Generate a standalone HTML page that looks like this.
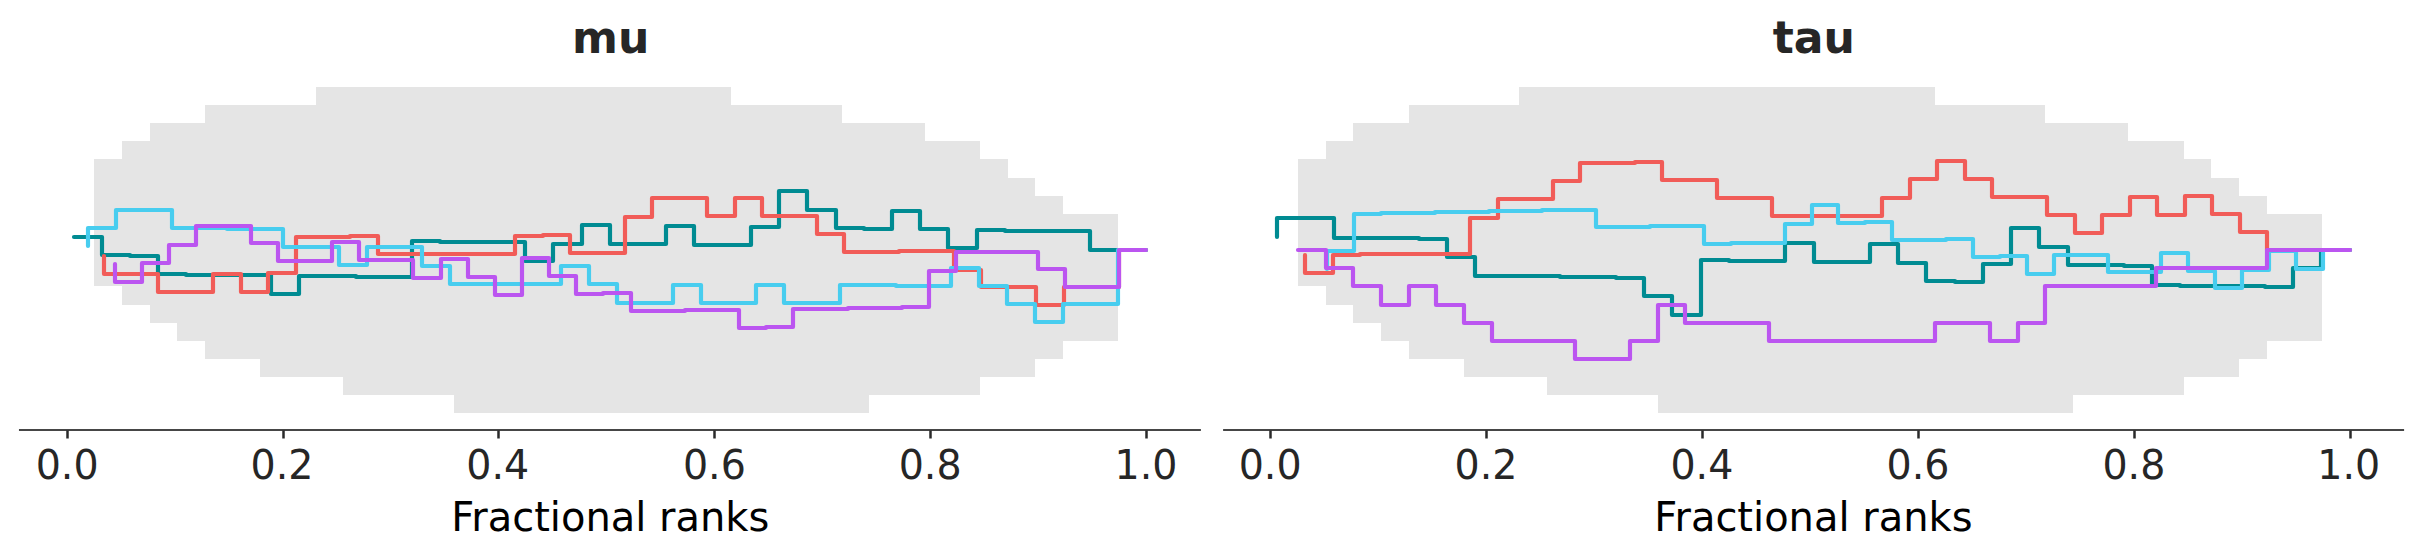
<!DOCTYPE html>
<html><head><meta charset="utf-8"><title>rank plot</title>
<style>
html,body{margin:0;padding:0;background:#fff}
svg{display:block}
text{font-family:"DejaVu Sans","Liberation Sans",sans-serif;text-anchor:middle}
.tk{font-size:41.67px;fill:#262626}
.xl{font-size:41.67px;fill:#000}
.tt{font-size:44.1px;font-weight:bold;fill:#262626}
</style></head><body>
<svg width="2423" height="559" viewBox="0 0 2423 559">
<rect width="2423" height="559" fill="#fff"/>
<path d="M94.00,159.00V159.00H122.00V141.00H150.00V123.00H177.00V123.00H205.00V105.00H233.00V105.00H260.00V105.00H288.00V105.00H316.00V87.00H343.00V87.00H371.00V87.00H399.00V87.00H426.00V87.00H454.00V87.00H482.00V87.00H510.00V87.00H537.00V87.00H565.00V87.00H593.00V87.00H620.00V87.00H648.00V87.00H676.00V87.00H703.00V87.00H731.00V105.00H759.00V105.00H786.00V105.00H814.00V105.00H842.00V123.00H869.00V123.00H897.00V123.00H925.00V141.00H952.00V141.00H980.00V159.00H1008.00V178.00H1035.00V196.00H1063.00V214.00H1091.00V214.00H1118.00V341.00H1091.00V341.00H1063.00V359.00H1035.00V377.00H1008.00V377.00H980.00V395.00H952.00V395.00H925.00V395.00H897.00V395.00H869.00V413.00H842.00V413.00H814.00V413.00H786.00V413.00H759.00V413.00H731.00V413.00H703.00V413.00H676.00V413.00H648.00V413.00H620.00V413.00H593.00V413.00H565.00V413.00H537.00V413.00H510.00V413.00H482.00V413.00H454.00V395.00H426.00V395.00H399.00V395.00H371.00V395.00H343.00V377.00H316.00V377.00H288.00V377.00H260.00V359.00H233.00V359.00H205.00V341.00H177.00V323.00H150.00V305.00H122.00V286.00H94.00Z" fill="#e5e5e5"/>
<path d="M74.00,237.00V237.00H102.00V255.00H130.00V256.00H158.00V274.00H186.00V275.00H215.00V275.00H243.00V275.00H271.00V294.00H299.00V276.00H328.00V276.00H356.00V277.00H384.00V277.00H412.00V241.00H440.00V242.00H469.00V242.00H497.00V242.00H525.00V261.00H553.00V244.00H582.00V225.00H610.00V244.00H638.00V244.00H666.00V226.00H694.00V245.00H723.00V245.00H751.00V227.00H779.00V191.00H807.00V210.00H836.00V228.00H864.00V229.00H892.00V211.00H920.00V229.00H948.00V248.00H977.00V230.00H1005.00V231.00H1033.00V231.00H1061.00V231.00H1090.00V250.00H1118.00V250.00H1146.00" fill="none" stroke="#008b92" stroke-width="4.17" stroke-linejoin="round" stroke-linecap="round"/>
<path d="M104.00,256.00V274.00H131.00V274.00H158.00V292.00H186.00V292.00H213.00V274.00H241.00V292.00H268.00V273.00H296.00V237.00H323.00V237.00H350.00V236.00H378.00V254.00H405.00V254.00H433.00V254.00H460.00V254.00H488.00V254.00H515.00V236.00H543.00V235.00H570.00V253.00H597.00V253.00H625.00V217.00H652.00V198.00H680.00V198.00H707.00V216.00H735.00V198.00H762.00V216.00H789.00V216.00H817.00V234.00H844.00V252.00H872.00V252.00H899.00V251.00H927.00V251.00H954.00V270.00H981.00V287.00H1009.00V287.00H1036.00V305.00H1064.00V287.00H1091.00V287.00H1119.00V250.00H1146.00" fill="none" stroke="#f15c58" stroke-width="4.17" stroke-linejoin="round" stroke-linecap="round"/>
<path d="M88.00,246.00V228.00H116.00V210.00H144.00V210.00H172.00V228.00H199.00V228.00H227.00V229.00H255.00V229.00H283.00V247.00H311.00V247.00H339.00V265.00H367.00V247.00H394.00V247.00H422.00V266.00H450.00V284.00H478.00V284.00H506.00V284.00H534.00V284.00H561.00V266.00H589.00V284.00H617.00V303.00H645.00V303.00H673.00V285.00H701.00V303.00H729.00V303.00H756.00V285.00H784.00V303.00H812.00V303.00H840.00V285.00H868.00V285.00H896.00V286.00H923.00V286.00H951.00V268.00H979.00V286.00H1007.00V304.00H1035.00V322.00H1063.00V304.00H1091.00V304.00H1118.00V250.00H1146.00" fill="none" stroke="#48cdef" stroke-width="4.17" stroke-linejoin="round" stroke-linecap="round"/>
<path d="M115.00,264.00V282.00H142.00V263.00H169.00V245.00H196.00V226.00H224.00V226.00H251.00V243.00H278.00V261.00H305.00V261.00H332.00V242.00H359.00V260.00H386.00V260.00H413.00V278.00H441.00V259.00H468.00V277.00H495.00V295.00H522.00V258.00H549.00V276.00H576.00V294.00H603.00V293.00H631.00V311.00H658.00V311.00H685.00V310.00H712.00V310.00H739.00V328.00H766.00V327.00H793.00V309.00H821.00V309.00H848.00V308.00H875.00V308.00H902.00V307.00H929.00V271.00H956.00V252.00H983.00V252.00H1010.00V252.00H1038.00V269.00H1065.00V287.00H1092.00V287.00H1119.00V250.00H1146.00" fill="none" stroke="#bb55f0" stroke-width="4.17" stroke-linejoin="round" stroke-linecap="round"/>
<line x1="18.96" x2="1200.90" y1="430" y2="430" stroke="#464646" stroke-width="2.08"/>
<line x1="67.50" x2="67.50" y1="430.4" y2="438.5" stroke="#2a2a2a" stroke-width="2.5"/>
<text transform="translate(67.10,478.8) scale(0.95,1)" class="tk">0.0</text>
<line x1="283.50" x2="283.50" y1="430.4" y2="438.5" stroke="#2a2a2a" stroke-width="2.5"/>
<text transform="translate(282.00,478.8) scale(0.95,1)" class="tk">0.2</text>
<line x1="498.50" x2="498.50" y1="430.4" y2="438.5" stroke="#2a2a2a" stroke-width="2.5"/>
<text transform="translate(497.70,478.8) scale(0.95,1)" class="tk">0.4</text>
<line x1="714.50" x2="714.50" y1="430.4" y2="438.5" stroke="#2a2a2a" stroke-width="2.5"/>
<text transform="translate(714.40,478.8) scale(0.95,1)" class="tk">0.6</text>
<line x1="930.50" x2="930.50" y1="430.4" y2="438.5" stroke="#2a2a2a" stroke-width="2.5"/>
<text transform="translate(930.10,478.8) scale(0.95,1)" class="tk">0.8</text>
<line x1="1146.50" x2="1146.50" y1="430.4" y2="438.5" stroke="#2a2a2a" stroke-width="2.5"/>
<text transform="translate(1146.00,478.8) scale(0.95,1)" class="tk">1.0</text>
<text transform="translate(610.25,530.8) scale(0.96,1)" class="xl">Fractional ranks</text>
<text transform="translate(610.70,53.2) scale(1.0,1)" class="tt">mu</text>
<path d="M1298.00,159.00V159.00H1326.00V141.00H1353.00V123.00H1381.00V123.00H1409.00V105.00H1436.00V105.00H1464.00V105.00H1492.00V105.00H1519.00V87.00H1547.00V87.00H1575.00V87.00H1602.00V87.00H1630.00V87.00H1658.00V87.00H1685.00V87.00H1713.00V87.00H1741.00V87.00H1768.00V87.00H1796.00V87.00H1824.00V87.00H1852.00V87.00H1879.00V87.00H1907.00V87.00H1935.00V105.00H1962.00V105.00H1990.00V105.00H2018.00V105.00H2045.00V123.00H2073.00V123.00H2101.00V123.00H2128.00V141.00H2156.00V141.00H2184.00V159.00H2211.00V178.00H2239.00V196.00H2267.00V214.00H2294.00V214.00H2322.00V341.00H2294.00V341.00H2267.00V359.00H2239.00V377.00H2211.00V377.00H2184.00V395.00H2156.00V395.00H2128.00V395.00H2101.00V395.00H2073.00V413.00H2045.00V413.00H2018.00V413.00H1990.00V413.00H1962.00V413.00H1935.00V413.00H1907.00V413.00H1879.00V413.00H1852.00V413.00H1824.00V413.00H1796.00V413.00H1768.00V413.00H1741.00V413.00H1713.00V413.00H1685.00V413.00H1658.00V395.00H1630.00V395.00H1602.00V395.00H1575.00V395.00H1547.00V377.00H1519.00V377.00H1492.00V377.00H1464.00V359.00H1436.00V359.00H1409.00V341.00H1381.00V323.00H1353.00V305.00H1326.00V286.00H1298.00Z" fill="#e5e5e5"/>
<path d="M1277.00,237.00V218.00H1306.00V218.00H1334.00V238.00H1362.00V238.00H1390.00V238.00H1419.00V239.00H1447.00V257.00H1475.00V276.00H1503.00V276.00H1531.00V276.00H1560.00V277.00H1588.00V277.00H1616.00V278.00H1644.00V296.00H1672.00V315.00H1701.00V260.00H1729.00V261.00H1757.00V261.00H1785.00V243.00H1814.00V262.00H1842.00V262.00H1870.00V244.00H1898.00V263.00H1926.00V281.00H1955.00V282.00H1983.00V264.00H2011.00V228.00H2039.00V247.00H2068.00V265.00H2096.00V265.00H2124.00V266.00H2152.00V285.00H2180.00V286.00H2208.00V286.00H2237.00V286.00H2265.00V287.00H2293.00V268.00H2321.00V250.00H2350.00" fill="none" stroke="#008b92" stroke-width="4.17" stroke-linejoin="round" stroke-linecap="round"/>
<path d="M1305.00,255.00V273.00H1333.00V255.00H1360.00V254.00H1388.00V254.00H1415.00V254.00H1443.00V254.00H1470.00V218.00H1498.00V199.00H1525.00V199.00H1553.00V181.00H1580.00V163.00H1607.00V163.00H1635.00V162.00H1662.00V180.00H1690.00V180.00H1717.00V198.00H1745.00V198.00H1772.00V216.00H1800.00V216.00H1827.00V216.00H1855.00V216.00H1882.00V198.00H1910.00V179.00H1937.00V161.00H1965.00V179.00H1992.00V197.00H2020.00V197.00H2047.00V215.00H2075.00V233.00H2102.00V215.00H2130.00V197.00H2157.00V215.00H2185.00V196.00H2212.00V214.00H2240.00V232.00H2267.00V250.00H2295.00V250.00H2322.00V250.00H2350.00" fill="none" stroke="#f15c58" stroke-width="4.17" stroke-linejoin="round" stroke-linecap="round"/>
<path d="M1327.00,269.00V251.00H1354.00V214.00H1381.00V213.00H1408.00V213.00H1435.00V212.00H1462.00V212.00H1489.00V211.00H1516.00V211.00H1542.00V210.00H1569.00V210.00H1596.00V227.00H1623.00V227.00H1650.00V226.00H1677.00V226.00H1704.00V244.00H1731.00V243.00H1758.00V243.00H1785.00V224.00H1812.00V205.00H1838.00V223.00H1865.00V222.00H1892.00V240.00H1919.00V240.00H1946.00V239.00H1973.00V257.00H2000.00V256.00H2027.00V274.00H2054.00V255.00H2081.00V255.00H2108.00V272.00H2134.00V272.00H2161.00V253.00H2188.00V271.00H2215.00V288.00H2242.00V270.00H2269.00V251.00H2296.00V269.00H2323.00V250.00H2350.00" fill="none" stroke="#48cdef" stroke-width="4.17" stroke-linejoin="round" stroke-linecap="round"/>
<path d="M1298.00,250.00V250.00H1326.00V268.00H1353.00V286.00H1381.00V305.00H1409.00V286.00H1436.00V305.00H1464.00V323.00H1492.00V341.00H1519.00V341.00H1547.00V341.00H1575.00V359.00H1602.00V359.00H1630.00V341.00H1658.00V305.00H1685.00V323.00H1713.00V323.00H1741.00V323.00H1769.00V341.00H1796.00V341.00H1824.00V341.00H1852.00V341.00H1879.00V341.00H1907.00V341.00H1935.00V323.00H1962.00V323.00H1990.00V341.00H2018.00V323.00H2045.00V286.00H2073.00V286.00H2101.00V286.00H2128.00V286.00H2156.00V268.00H2184.00V268.00H2211.00V268.00H2239.00V268.00H2267.00V250.00H2294.00V250.00H2322.00V250.00H2350.00" fill="none" stroke="#bb55f0" stroke-width="4.17" stroke-linejoin="round" stroke-linecap="round"/>
<line x1="1223.10" x2="2404.10" y1="430" y2="430" stroke="#464646" stroke-width="2.08"/>
<line x1="1270.50" x2="1270.50" y1="430.4" y2="438.5" stroke="#2a2a2a" stroke-width="2.5"/>
<text transform="translate(1270.10,478.8) scale(0.95,1)" class="tk">0.0</text>
<line x1="1486.50" x2="1486.50" y1="430.4" y2="438.5" stroke="#2a2a2a" stroke-width="2.5"/>
<text transform="translate(1486.00,478.8) scale(0.95,1)" class="tk">0.2</text>
<line x1="1702.50" x2="1702.50" y1="430.4" y2="438.5" stroke="#2a2a2a" stroke-width="2.5"/>
<text transform="translate(1701.90,478.8) scale(0.95,1)" class="tk">0.4</text>
<line x1="1918.50" x2="1918.50" y1="430.4" y2="438.5" stroke="#2a2a2a" stroke-width="2.5"/>
<text transform="translate(1918.00,478.8) scale(0.95,1)" class="tk">0.6</text>
<line x1="2134.50" x2="2134.50" y1="430.4" y2="438.5" stroke="#2a2a2a" stroke-width="2.5"/>
<text transform="translate(2133.90,478.8) scale(0.95,1)" class="tk">0.8</text>
<line x1="2350.50" x2="2350.50" y1="430.4" y2="438.5" stroke="#2a2a2a" stroke-width="2.5"/>
<text transform="translate(2348.70,478.8) scale(0.95,1)" class="tk">1.0</text>
<text transform="translate(1813.45,530.8) scale(0.96,1)" class="xl">Fractional ranks</text>
<text transform="translate(1813.90,53.2) scale(1.0,1)" class="tt">tau</text>
</svg>
</body></html>
